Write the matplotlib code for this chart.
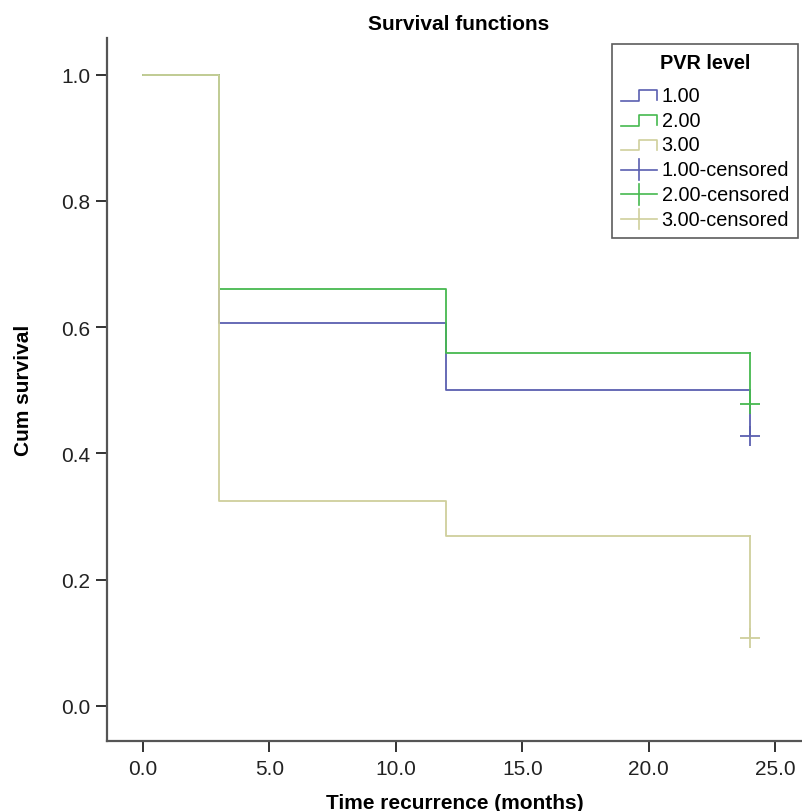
import matplotlib
matplotlib.use("Agg")
import matplotlib.pyplot as plt
from matplotlib.lines import Line2D
from matplotlib.legend_handler import HandlerBase

plt.rcParams['font.family'] = ['Liberation Sans', 'DejaVu Sans']

# Kaplan-Meier step data (time in months, cumulative survival)
times = [0, 3, 12, 24]
surv_1 = [1.0, 0.607, 0.500, 0.428]
surv_2 = [1.0, 0.661, 0.559, 0.478]
surv_3 = [1.0, 0.324, 0.269, 0.107]
censor_time = 24
groups = ['1.00', '2.00', '3.00']
colors = ['#5a5fb0', '#46b94f', '#cfcf9c']


class StepHandler(HandlerBase):
    def create_artists(self, legend, orig, xd, yd, w, h, fontsize, trans):
        xs = [xd, xd + 0.5 * w, xd + 0.5 * w, xd + w, xd + w]
        ys = [yd + 0.0 * h, yd + 0.0 * h, yd + 0.75 * h, yd + 0.75 * h, yd + 0.05 * h]
        ln = Line2D(xs, ys, color=orig.get_color(), lw=1.2, transform=trans)
        return [ln]


class CensorHandler(HandlerBase):
    def create_artists(self, legend, orig, xd, yd, w, h, fontsize, trans):
        c = orig.get_color()
        mid = yd + 0.4 * h
        a = Line2D([xd, xd + w], [mid, mid], color=c, lw=1.2, transform=trans)
        b = Line2D([xd + 0.5 * w] * 2, [mid - 0.75 * h, mid + 0.75 * h], color=c, lw=1.2, transform=trans)
        return [a, b]


fig = plt.figure(figsize=(8.02, 8.12), dpi=100)
ax = fig.add_axes([107 / 802, 1 - 742 / 812, 1 - 107 / 802, (742 - 39) / 812])

step_handles = []
cens_handles = []
for s, c, g in zip([surv_1, surv_2, surv_3], colors, groups):
    # event steps up to the last time, then drop to final value
    xs = times[:-1] + [censor_time]
    ys = s[:-1] + [s[-2]]
    h, = ax.step(xs, ys, where='post', color=c, lw=1.3)
    ax.plot([censor_time, censor_time], [s[-2], s[-1]], color=c, lw=1.3)
    ax.plot([censor_time], [s[-1]], marker='+', ms=14, mew=1.3, color=c, ls='none')
    step_handles.append(h)
    cens_handles.append(Line2D([], [], color=c))

ax.set_xlim(-1.42, 26.06)
ax.set_ylim(-0.0555, 1.058)
ax.set_xticks([0, 5, 10, 15, 20, 25])
ax.set_xticklabels(['0.0', '5.0', '10.0', '15.0', '20.0', '25.0'])
ax.set_yticks([0, 0.2, 0.4, 0.6, 0.8, 1.0])
ax.set_yticklabels(['0.0', '0.2', '0.4', '0.6', '0.8', '1.0'])
ax.tick_params(labelsize=15, colors='#222222', length=8, width=1.3, pad=4)
ax.tick_params(axis='x', pad=5)
for sp in ['top', 'right']:
    ax.spines[sp].set_visible(False)
for sp in ['left', 'bottom']:
    ax.spines[sp].set_color('#555555')
    ax.spines[sp].set_linewidth(1.6)

ax.set_xlabel('Time recurrence (months)', fontsize=15, fontweight='bold', labelpad=11)
ax.set_ylabel('Cum survival', fontsize=15, fontweight='bold', labelpad=20)
fig.text(459 / 802, 1 - 24 / 812, 'Survival functions', ha='center', va='center',
         fontsize=15, fontweight='bold')

labels = groups + [g + '-censored' for g in groups]
hmap = {h: StepHandler() for h in step_handles}
hmap.update({h: CensorHandler() for h in cens_handles})
leg = ax.legend(step_handles + cens_handles, labels, handler_map=hmap,
                title='PVR level', loc='upper right',
                fontsize=14.3, title_fontsize=14.3, borderaxespad=0,
                frameon=True, fancybox=False, edgecolor='#333333', handlelength=1.8,
                handletextpad=0.25, labelspacing=0.29, borderpad=0.45)
leg.get_title().set_fontweight('bold')
leg.get_frame().set_linewidth(1.2)
leg._legend_box.sep = 10  # extra room under the legend title
leg.set_bbox_to_anchor((798 / 802, 1 - 45 / 812), transform=fig.transFigure)

fig.savefig('out.png', dpi=100)
